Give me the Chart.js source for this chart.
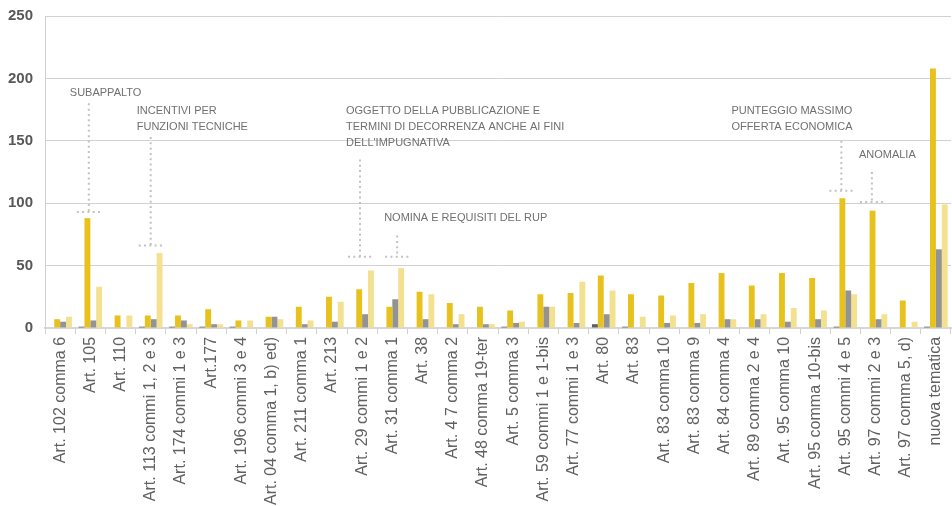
<!DOCTYPE html>
<html>
<head>
<meta charset="utf-8">
<script src="https://cdn.jsdelivr.net/npm/chart.js@4"></script>
<style>
  html, body { margin: 0; padding: 0; background: #fff; }
  #wrap { width: 952px; height: 506px; }
</style>
</head>
<body>
<div id="wrap"><canvas id="myChart"></canvas></div>
<script>
'use strict';

// Articles along the x axis
const articles = [
    'Art. 102 comma 6', 'Art. 105', 'Art. 110', 'Art. 113 commi 1, 2 e 3', 'Art. 174 commi 1 e 3',
    'Art.177', 'Art. 196 commi 3 e 4', 'Art. 04 comma 1, b) ed)', 'Art. 211 comma 1', 'Art. 213',
    'Art. 29 commi 1 e 2', 'Art. 31 comma 1', 'Art. 38', 'Art. 4 7 comma 2', 'Art. 48 comma 19-ter',
    'Art. 5 comma 3', 'Art. 59 commi 1 e 1-bis', 'Art. 77 commi 1 e 3', 'Art. 80', 'Art. 83',
    'Art. 83 comma 10', 'Art. 83 comma 9', 'Art. 84 comma 4', 'Art. 89 comma 2 e 4', 'Art. 95 comma 10',
    'Art. 95 comma 10-bis', 'Art. 95 commi 4 e 5', 'Art. 97 commi 2 e 3', 'Art. 97 comma 5, d)', 'nuova tematica'
];

// four series per article
const seriesDark  = [0, 1, 0, 1, 1, 1, 1, 0, 0, 0, 0, 0, 0, 0, 0, 1, 0, 0, 3, 1, 0, 0, 0, 0, 0, 0, 1, 0, 0, 1];
const seriesGold  = [7, 88, 10, 10, 10, 15, 6, 9, 17, 25, 31, 17, 29, 20, 17, 14, 27, 28, 42, 27, 26, 36, 44, 34, 44, 40, 104, 94, 22, 208];
const seriesGray  = [5, 6, 0, 7, 6, 3, 0, 9, 3, 5, 11, 23, 7, 3, 3, 4, 17, 4, 11, 0, 4, 4, 7, 7, 5, 7, 30, 7, 0, 63];
const seriesLight = [9, 33, 10, 60, 3, 3, 6, 7, 6, 21, 46, 48, 27, 11, 3, 5, 17, 37, 30, 9, 10, 11, 7, 11, 16, 14, 27, 11, 5, 99];

const yTicks = [0, 50, 100, 150, 200, 250];

// callouts: article, shift in category units, line top / bracket / first text line (values), text offset
const notes = [
    { art: 'Art. 105', shift: -0.05, top: 180, bracket: 93, textY: 188, dx: -19, text: ['SUBAPPALTO'] },
    { art: 'Art. 113 commi 1, 2 e 3', shift: 0, top: 153, bracket: 66, textY: 174, dx: -14, text: ['INCENTIVI PER', 'FUNZIONI TECNICHE'] },
    { art: 'Art. 29 commi 1 e 2', shift: -0.07, top: 135, bracket: 57, textY: 174, dx: -14,
      text: ['OGGETTO DELLA PUBBLICAZIONE E', 'TERMINI DI DECORRENZA ANCHE AI FINI', "DELL'IMPUGNATIVA"] },
    { art: 'Art. 31 comma 1', shift: 0.16, top: 74, bracket: 57, textY: 88.5, dx: -13, text: ['NOMINA E REQUISITI DEL RUP'] },
    { art: 'Art. 95 commi 4 e 5', shift: -0.13, top: 150, bracket: 110, textY: 174, dx: -110, text: ['PUNTEGGIO MASSIMO', 'OFFERTA ECONOMICA'] },
    { art: 'Art. 97 commi 2 e 3', shift: -0.12, top: 125, bracket: 101, textY: 139, dx: -13, text: ['ANOMALIA'] }
];

const calloutPlugin = {
    id: 'callouts',
    afterDatasetsDraw(chart) {
        const ctx = chart.ctx;
        const xs = chart.scales.x;
        const ys = chart.scales.y;
        ctx.save();
        notes.forEach((n) => {
            const x = xs.getPixelForValue(articles.indexOf(n.art) + n.shift);
            const yTop = ys.getPixelForValue(n.top);
            const yBr = ys.getPixelForValue(n.bracket);

            // dotted leader
            ctx.strokeStyle = '#c2c2c2';
            ctx.lineWidth = 2;
            ctx.lineCap = 'butt';
            ctx.setLineDash([2, 3.3]);
            ctx.beginPath();
            ctx.moveTo(x, yTop);
            ctx.lineTo(x, yBr);
            ctx.moveTo(x - 12, yBr);
            ctx.lineTo(x + 12, yBr);
            ctx.stroke();
            ctx.setLineDash([]);

            ctx.fillStyle = '#707070';
            ctx.font = '11px "Liberation Sans", Arial, sans-serif';
            ctx.textAlign = 'left';
            ctx.textBaseline = 'middle';
            const y0 = ys.getPixelForValue(n.textY);
            n.text.forEach((line, i) => {
                ctx.fillText(line, x + n.dx, y0 + i * 16);
            });
        });
        ctx.restore();
    }
};

function main() {
    new Chart('myChart', {
        type: 'bar',
        data: {
            labels: articles,
            datasets: [
                { data: seriesDark, backgroundColor: '#5e5e5e' },
                { data: seriesGold, backgroundColor: '#e8c21c' },
                { data: seriesGray, backgroundColor: '#939393' },
                { data: seriesLight, backgroundColor: '#f3e18f' }
            ]
        },
        options: {
            responsive: true,
            maintainAspectRatio: false,
            animation: false,
            layout: { padding: { left: 8, top: 16, right: 1, bottom: -2 } },
            datasets: { bar: { barPercentage: 1, categoryPercentage: 0.78 } },
            plugins: {
                legend: { display: false },
                tooltip: { enabled: false }
            },
            scales: {
                x: {
                    grid: { drawOnChartArea: false, color: '#d0d0d0', tickLength: 6, offset: true },
                    border: { color: '#d6d6d6', width: 2 },
                    ticks: {
                        minRotation: 90, maxRotation: 90, autoSkip: false, padding: 3,
                        color: '#616161',
                        font: { family: '"Liberation Sans", Arial, sans-serif', size: 16, lineHeight: 0.7 }
                    }
                },
                y: {
                    min: 0, max: 250,
                    afterBuildTicks(axis) { axis.ticks = yTicks.map(v => ({ value: v })); },
                    // invisible tick marks keep the labels clear of the axis
                    grid: { color: '#d2d2d2', drawTicks: true, tickLength: 12, tickColor: 'rgba(0,0,0,0)' },
                    border: { color: '#d0d0d0' },
                    ticks: {
                        padding: 0, color: '#585858',
                        font: { family: '"Liberation Sans", Arial, sans-serif', size: 15, weight: 'bold' }
                    }
                }
            }
        },
        plugins: [calloutPlugin]
    });
}

window.onload = main;
</script>
</body>
</html>
